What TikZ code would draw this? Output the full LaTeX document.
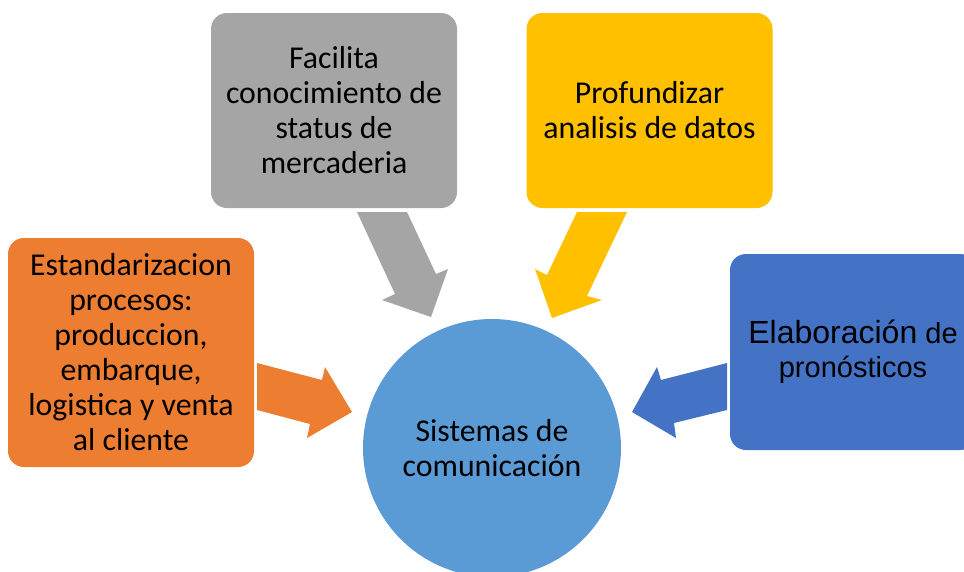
\documentclass[tikz,border=0pt]{standalone}
\usepackage{fontspec}
\setmainfont{Carlito}
\newfontfamily\arialf{Liberation Sans}
\definecolor{cOrange}{HTML}{ED7D31}
\definecolor{cGray}{HTML}{A5A5A5}
\definecolor{cYellow}{HTML}{FFC000}
\definecolor{cBlueBox}{HTML}{4472C4}
\definecolor{cCircle}{HTML}{5B9BD5}
\tikzset{
  rbox/.style={rounded corners=16pt, minimum width=246pt, inner sep=0pt, align=center,
    font=\fontsize{31.8}{35}\selectfont, text=black},
  hub/.style={circle, fill=cCircle, minimum size=258pt, inner sep=0pt, align=center,
    font=\fontsize{31.8}{35}\selectfont, text=black},
}
\begin{document}
\begin{tikzpicture}[x=1pt,y=-1pt]
\useasboundingbox (0,0) rectangle (964,571);
\clip (0,0) rectangle (964,571);
% central circle
\node[hub] (hub) at (492,448) {Sistemas de\\comunicación};
% boxes
\node[rbox, fill=cOrange, minimum height=229pt] (orange) at (131,352.5)
  {Estandarizacion\\procesos:\\produccion,\\embarque,\\logistica y venta\\al cliente};
\node[rbox, fill=cGray, minimum height=195pt] (gray) at (334,110.5)
  {Facilita\\conocimiento de\\status de\\mercaderia};
\node[rbox, fill=cYellow, minimum height=195pt] (yellow) at (649.5,110.5)
  {Profundizar\\analisis de datos};
\node[rbox, fill=cBlueBox, minimum height=196pt] (blue) at (853,352)
  {\arialf{\fontsize{32}{37}\selectfont Elaboración}\arialf{\fontsize{29}{35}\selectfont{} de}\\[-1pt]
   \arialf{\fontsize{29}{35}\selectfont pronósticos}};
% block arrows
\fill[cGray] (357,212) -- (395,294) -- (382,300) -- (431,317) -- (448,269) -- (436,274) -- (407,212) -- cycle;
\fill[cYellow] (577,212) -- (547,275) -- (535,269) -- (552,318) -- (602,300) -- (587,296) -- (627,212) -- cycle;
\fill[cOrange] (257,363) -- (322,380) -- (325,367) -- (352,412) -- (307,438) -- (310,424) -- (257,410) -- cycle;
\fill[cBlueBox] (727,363) -- (661,380) -- (657,367) -- (632,412) -- (676,438) -- (674,423) -- (727,410) -- cycle;
\end{tikzpicture}
\end{document}
